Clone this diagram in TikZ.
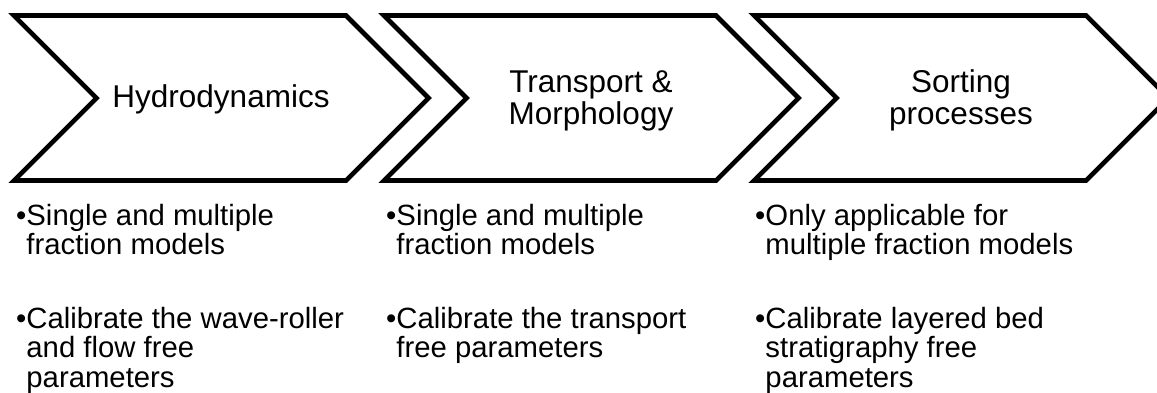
\documentclass[tikz,border=0pt]{standalone}
\usepackage{fontspec}
\setmainfont{Liberation Sans}

% bulleted paragraph with a hanging indent the width of the bullet;
% \\ breaks the line without ending the paragraph
\newcommand\bulletpar[1]{%
  \setbox0\hbox{•}%
  \parbox[t]{360pt}{\let\\\newline\hangindent=\wd0 \hangafter=1 \noindent\box0 #1}}

\begin{document}
\begin{tikzpicture}[x=1pt,y=-1pt,
  chevron/.style={draw=black, line width=4.6pt, line join=miter, miter limit=10},
  heading/.style={anchor=base, inner sep=0pt, font=\fontsize{31.5}{32}\selectfont},
  itemtext/.style={anchor=base west, inner sep=0pt, font=\fontsize{29.3}{29.8}\selectfont}]
\useasboundingbox (0,0) rectangle (1157,392);
\clip (0,0) rectangle (1157,392);

% the three process chevrons (left corner x, body width 332, point depth 82.5)
\foreach \i/\x in {1/14, 2/384, 3/754}{
  \coordinate (c\i-tl) at (\x,15.5);
  \coordinate (c\i-tr) at (\x+332,15.5);
  \coordinate (c\i-tip) at (\x+414.5,98);
  \coordinate (c\i-br) at (\x+332,180.5);
  \coordinate (c\i-bl) at (\x,180.5);
  \coordinate (c\i-notch) at (\x+82.5,98);
  \draw[chevron] (c\i-tl) -- (c\i-tr) -- (c\i-tip) -- (c\i-br) -- (c\i-bl) -- (c\i-notch) -- cycle;
}

% headings
\node[heading] (h1) at (221,107) {Hydrodynamics};
\node[heading] (h2) at (591,92) {\parbox[t]{240pt}{\centering Transport \&\\Morphology}};
\node[heading] (h3) at (961,92) {\parbox[t]{240pt}{\centering Sorting\\processes}};

% notes under each chevron
\node[itemtext] (n11) at (16,225) {\bulletpar{Single and multiple\\fraction models}};
\node[itemtext] (n12) at (16,328) {\bulletpar{Calibrate the wave-roller\\and flow free\\parameters}};

\node[itemtext] (n21) at (386,225) {\bulletpar{Single and multiple\\fraction models}};
\node[itemtext] (n22) at (386,328) {\bulletpar{Calibrate the transport\\free parameters}};

\node[itemtext] (n31) at (755,225) {\bulletpar{Only applicable for\\multiple fraction models}};
\node[itemtext] (n32) at (755,328) {\bulletpar{Calibrate layered bed\\stratigraphy free\\parameters}};
\end{tikzpicture}
\end{document}
